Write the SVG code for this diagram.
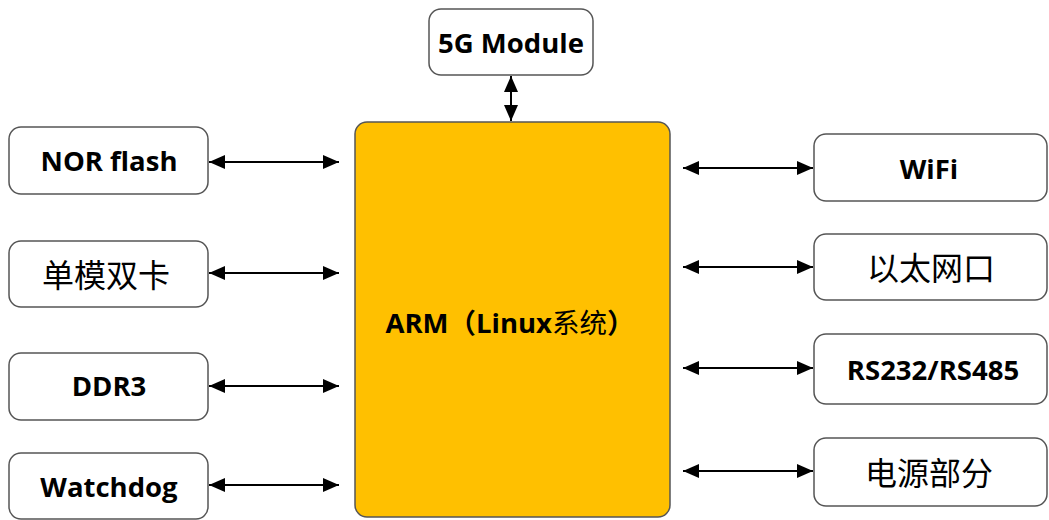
<svg xmlns="http://www.w3.org/2000/svg" width="1049" height="520" viewBox="0 0 1049 520">
<defs>
<marker id="ah" viewBox="0 0 16 14" refX="16" refY="7" markerWidth="16" markerHeight="14" markerUnits="userSpaceOnUse" orient="auto-start-reverse">
<path d="M0,0 L16,7 L0,14 Z" fill="#000"/>
</marker>
<style>
.box{fill:#fff;stroke:#555;stroke-width:1.5}
.arm{fill:#FFC000;stroke:#555;stroke-width:1.5}
.t{font-family:"Open Sans","Noto Sans CJK SC",sans-serif;font-weight:bold;font-size:27.5px;fill:#000;text-anchor:middle;dominant-baseline:central}
.c{font-family:"Noto Sans CJK SC",sans-serif;font-weight:normal;font-size:32px;fill:#000;text-anchor:middle;dominant-baseline:central}
.ln{stroke:#000;stroke-width:2;fill:none;marker-start:url(#ah);marker-end:url(#ah)}
</style>
</defs>
<rect width="1049" height="520" fill="#fff"/>
<g id="arm"><rect class="arm" x="355" y="122" width="315" height="395" rx="12"/><text class="t" x="510" y="322" font-size="28">ARM（Linux<tspan font-weight="normal">系统</tspan>）</text></g>
<g id="g5"><rect class="box" x="429" y="9" width="164" height="66" rx="12"/><text class="t" x="511" y="42">5G Module</text></g>
<g id="nor"><rect class="box" x="9" y="127" width="199" height="67" rx="12"/><text class="t" x="109" y="160">NOR flash</text></g>
<g id="sim"><rect class="box" x="9" y="241" width="199" height="66" rx="12"/><text class="c" x="106" y="273">单模双卡</text></g>
<g id="ddr"><rect class="box" x="9" y="353" width="199" height="67" rx="12"/><text class="t" x="109" y="385">DDR3</text></g>
<g id="wd"><rect class="box" x="9" y="453" width="199" height="66" rx="12"/><text class="t" x="109" y="486">Watchdog</text></g>
<g id="wifi"><rect class="box" x="814" y="134" width="233" height="67" rx="12"/><text class="t" x="929" y="168">WiFi</text></g>
<g id="eth"><rect class="box" x="814" y="234" width="233" height="66" rx="12"/><text class="c" x="931" y="266">以太网口</text></g>
<g id="rs"><rect class="box" x="814" y="334" width="233" height="70" rx="12"/><text class="t" x="933" y="369">RS232/RS485</text></g>
<g id="pwr"><rect class="box" x="814" y="438" width="233" height="68" rx="12"/><text class="c" x="929" y="471">电源部分</text></g>
<g id="connectors">
<line class="ln" x1="511" y1="76" x2="511" y2="121"/>
<line class="ln" x1="209" y1="162" x2="339" y2="162"/>
<line class="ln" x1="209" y1="273" x2="339" y2="273"/>
<line class="ln" x1="209" y1="386" x2="339" y2="386"/>
<line class="ln" x1="209" y1="485" x2="339" y2="485"/>
<line class="ln" x1="683" y1="168" x2="813" y2="168"/>
<line class="ln" x1="683" y1="267" x2="813" y2="267"/>
<line class="ln" x1="683" y1="368" x2="813" y2="368"/>
<line class="ln" x1="683" y1="471" x2="813" y2="471"/>
</g>
</svg>
